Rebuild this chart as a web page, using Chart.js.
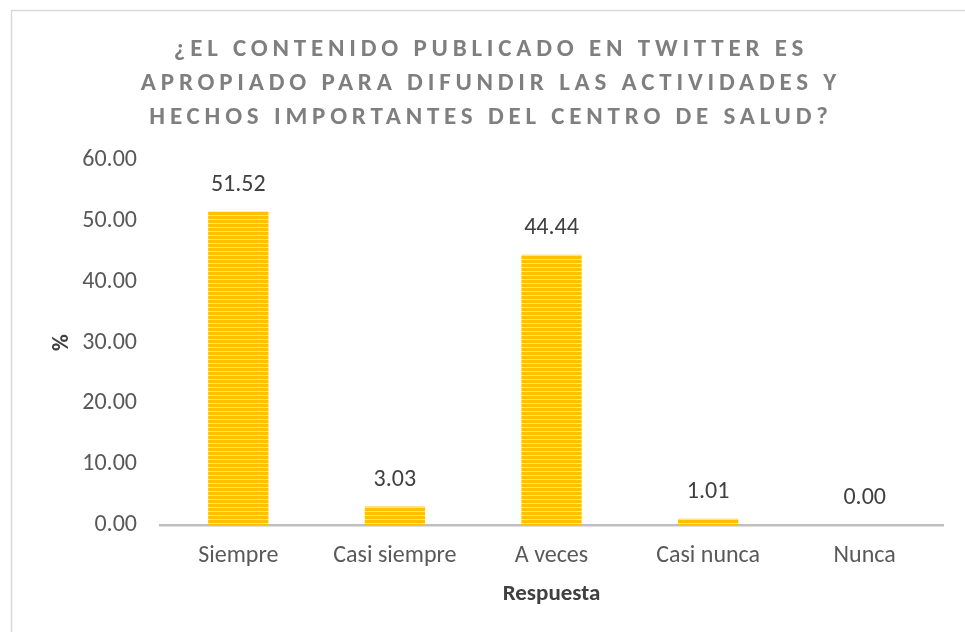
<!DOCTYPE html>
<html>
<head>
<meta charset="utf-8">
<style>
  html, body { margin: 0; padding: 0; background: #fff; }
  #wrap { width: 965px; height: 632px; position: relative; }
</style>
<script src="https://cdn.jsdelivr.net/npm/chart.js@4.4.0/dist/chart.umd.min.js"></script>
</head>
<body>
<div id="wrap"><canvas id="myChart" width="965" height="632"></canvas></div>
<script>
// data
let categories = ['Siempre', 'Casi siempre', 'A veces', 'Casi nunca', 'Nunca'];
let percentValues = [51.52, 3.03, 44.44, 1.01, 0.00];
let titleLines = [
  '¿EL CONTENIDO PUBLICADO EN TWITTER ES',
  'APROPIADO PARA DIFUNDIR LAS ACTIVIDADES Y',
  'HECHOS IMPORTANTES DEL CENTRO DE SALUD?'
];
let yMin = 0, yMax = 60, yStep = 10;

let fontFam = 'Calibri, Carlito, "Open Sans", sans-serif';

// striped gold fill, like the original
function stripes(){
  let c = document.createElement('canvas');
  c.width = 4; c.height = 4;
  let g = c.getContext('2d');
  g.fillStyle = '#FFC000';
  g.fillRect(0, 0, 4, 4);
  g.fillStyle = '#FFE38A';
  g.fillRect(0, 3, 4, 1);
  return g.createPattern(c, 'repeat');
}
let ctx = document.getElementById('myChart').getContext('2d');
let barFill = stripes();

// frame + title
let decoPlugin = {
  id: 'deco',
  beforeDraw(chart){
    let c = chart.ctx;
    c.save();
    c.strokeStyle = '#d9d9d9';
    c.lineWidth = 1.5;
    c.strokeRect(11.5, 10.5, 1000, 1000);
    c.restore();
  },
  afterDraw(chart){
    let c = chart.ctx;
    c.save();
    c.fillStyle = '#7f7f7f';
    c.font = 'bold 25px ' + fontFam;
    c.textAlign = 'center';
    c.textBaseline = 'middle';
    c.letterSpacing = '4.8px';
    titleLines.forEach((t, i) => {
      c.fillText(t, 491, 50 + i * 34);
    });
    c.restore();
  }
};

// value labels above bars
let valuePlugin = {
  id: 'values',
  afterDatasetsDraw(chart){
    let c = chart.ctx;
    let meta = chart.getDatasetMeta(0);
    c.save();
    c.fillStyle = '#404040';
    c.font = '24px ' + fontFam;
    c.textAlign = 'center';
    c.textBaseline = 'middle';
    meta.data.forEach((bar, i) => {
      c.fillText(percentValues[i].toFixed(2), bar.x, bar.y - 27);
    });
    c.restore();
  }
};

var chart = new Chart(ctx, {
  type: 'bar',
  data: {
    labels: categories,
    datasets: [{
      label: '%',
      data: percentValues,
      backgroundColor: barFill,
      borderWidth: 0,
      barPercentage: 0.385,
      categoryPercentage: 1
    }]
  },
  options: {
    responsive: false,
    animation: false,
    layout: { padding: { top: 160, right: 22, bottom: 0, left: 0 } },
    plugins: {
      legend: { display: false },
      tooltip: { enabled: false }
    },
    scales: {
      x: {
        afterFit(s){ s.height = 107; },
        grid: { display: false, drawTicks: false },
        border: { display: true, color: '#bfbfbf', width: 2.5 },
        ticks: { color: '#595959', font: { size: 24, family: fontFam }, padding: 17 },
        title: {
          display: true, text: 'Respuesta', color: '#404040',
          font: { size: 23, weight: 'bold', family: fontFam },
          padding: { top: 0, bottom: 24 }
        }
      },
      y: {
        min: yMin, max: yMax,
        afterFit(s){ s.width = 160; },
        grid: { display: false, drawTicks: false },
        border: { display: false },
        ticks: {
          stepSize: yStep, color: '#595959', padding: 23,
          font: { size: 24, family: fontFam },
          callback: v => v.toFixed(2)
        },
        title: {
          display: true, text: '%', color: '#404040',
          font: { size: 23, weight: 'bold', family: fontFam },
          padding: { top: 48, bottom: 0 }
        }
      }
    }
  },
  plugins: [decoPlugin, valuePlugin]
});
</script>
</body>
</html>
